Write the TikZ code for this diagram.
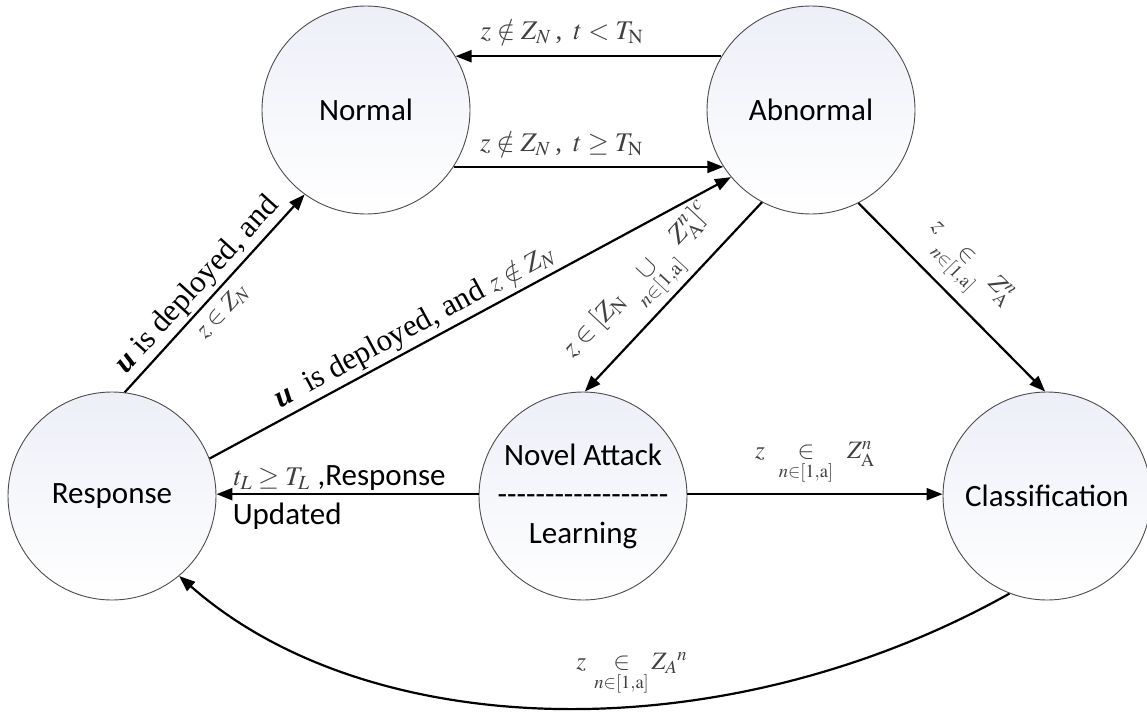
\documentclass[tikz,border=0pt]{standalone}
\usepackage{mathptmx}
\usepackage[no-math]{fontspec}
\setmainfont{Liberation Serif}
\newfontfamily\calfont{Carlito}
\usetikzlibrary{arrows.meta,calc}
\definecolor{lav}{RGB}{237,239,248}
\definecolor{lavmid}{RGB}{246,247,251}
\newcommand\dashrow{-{}-{}-{}-{}-{}-{}-{}-{}-{}-{}-{}-{}-{}-{}-{}-{}-{}-{}}
\begin{document}
\begin{tikzpicture}[x=1pt,y=-1pt,
  state/.style={circle, draw=black!70, line width=0.9pt, minimum size=208pt,
    inner sep=0pt, top color=lav, bottom color=white, middle color=lavmid,
    font=\calfont\fontsize{31}{39}\selectfont, text=black},
  link/.style={line width=2.2pt, -{Triangle[length=16pt,width=12pt]}},
  mlab/.style={font=\fontsize{27}{31}\selectfont, text=black!75, inner sep=3pt},
  slab/.style={font=\fontsize{25}{29}\selectfont, text=black!75, inner sep=3pt},
  tlab/.style={font=\fontsize{31}{36}\selectfont, text=black, inner sep=3pt}]
\useasboundingbox (0,0) rectangle (1147,714);

% states
\node[state] (normal)   at (366,110) {Normal};
\node[state] (abnormal) at (811,110) {Abnormal};
\node[state] (response) at (112,496) {Response};
\node[state, align=center] (novel) at (583,496) {Novel Attack\\\dashrow\\Learning};
\node[state] (class)    at (1047,496) {Classification};

% transitions between Normal and Abnormal
\draw[link] (abnormal.149) -- node[mlab, above=8pt, pos=0.6]
  {$z\notin Z_N$\,,\, $t<T_{\mathrm N}$} (normal.31);
\draw[link] (normal.-33) -- node[mlab, above=7pt, pos=0.4]
  {$z\notin Z_N$\,,\, $t\geq T_{\mathrm N}$} (abnormal.-147);

% from Response
\draw[link] (response.83) --
  node[tlab, sloped, above, pos=0.48] {{\bfseries\itshape u} is deployed, and}
  node[slab, sloped, below=4pt, pos=0.47] {$z\in Z_N$} (normal.234);
\draw[link] (response.21) --
  node[tlab, sloped, above, pos=0.41]
  {{\bfseries\itshape u}\ \ is deployed, and {\fontsize{27}{31}\selectfont\color{black!75}$z\notin Z_N$}}
  (abnormal.220);

% from Abnormal
\draw[link] (abnormal.242) -- node[mlab, sloped, above, pos=0.55]
  {$z\in[Z_{\mathrm N}\;\mathop{\cup}\limits_{n\in[1,\mathrm a]}\;Z^n_{\mathrm A}]^c$} (novel.89);
\draw[link] (abnormal.-63) -- node[slab, sloped, above=4pt, pos=0.46]
  {$z\;\mathop{\in}\limits_{n\in[1,\mathrm a]}\;Z^n_{\mathrm A}$} (class.91);

% from Novel Attack / Learning
\draw[link] (novel.179) --
  node[tlab, above, pos=0.53]
  {{\fontsize{27}{31}\selectfont\color{black!75}$t_L\geq T_L$}\ {\calfont ,Response}}
  node[tlab, below=5pt, pos=0.73, font=\calfont\fontsize{31}{36}\selectfont] {Updated}
  (response.1);
\draw[link] (novel.1) -- node[slab, above=5pt, pos=0.5]
  {$z\;\;\mathop{\in}\limits_{n\in[1,\mathrm a]}\;\;Z^n_{\mathrm A}$} (class.179);

% from Classification back to Response
\draw[link] (class.249) .. controls ($(class.249)+(-284,159)$) and ($(response.-50)+(192,169)$) ..
  node[slab, above=6pt, pos=0.42]
  {$z\;\mathop{\in}\limits_{n\in[1,\mathrm a]}Z_{A}{}^{n}$} (response.-50);
\end{tikzpicture}
\end{document}
